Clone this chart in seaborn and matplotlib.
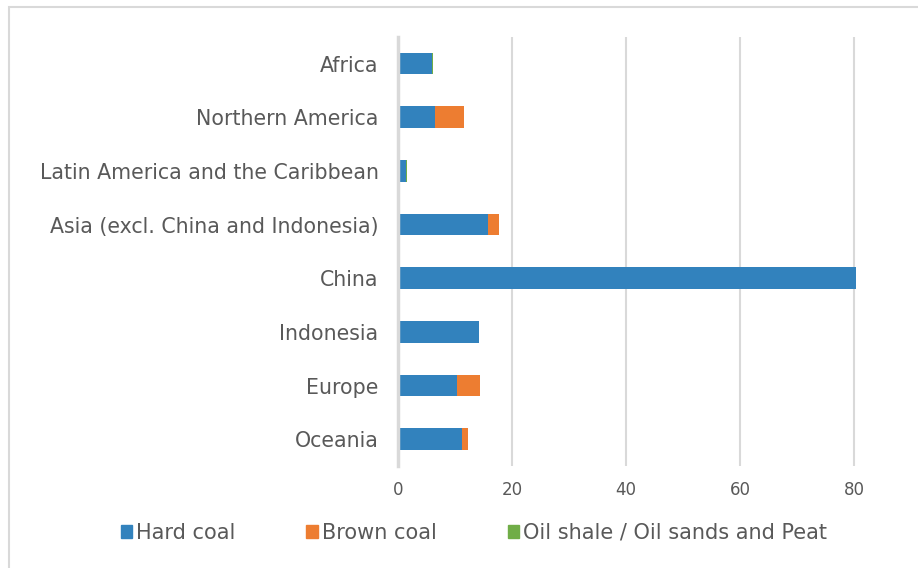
import pandas as pd
import seaborn as sns
import matplotlib.pyplot as plt
from matplotlib.patches import Rectangle

# Dados
regions = ["Africa", "Northern America", "Latin America and the Caribbean",
           "Asia (excl. China and Indonesia)", "China", "Indonesia", "Europe", "Oceania"]
hard_coal = [6.0, 6.5, 1.4, 15.8, 80.3, 14.2, 10.4, 11.3]
brown_coal = [0.0, 5.1, 0.0, 2.0, 0.0, 0.0, 3.9, 0.9]
oil_peat = [0.1, 0.0, 0.1, 0.0, 0.0, 0.0, 0.15, 0.0]

series = ["Hard coal", "Brown coal", "Oil shale / Oil sands and Peat"]
colors = ["#3282BD", "#ED7D31", "#70AD47"]
text_color = "#595959"
grid_color = "#D9D9D9"

df = pd.DataFrame({"region": regions, "hard": hard_coal,
                   "brown": brown_coal, "oil": oil_peat})
# totais acumulados para empilhar (desenha do maior para o menor)
df["c1"] = df["hard"]
df["c2"] = df["hard"] + df["brown"]
df["c3"] = df["c2"] + df["oil"]

sns.set_style("white")
plt.rcParams["font.family"] = ["DejaVu Sans"]

fig = plt.figure(figsize=(9.18, 5.68), dpi=100)
ax = fig.add_axes([398 / 918, 1 - 466 / 568, (911 - 398) / 918, (466 - 36.7) / 568])

for col, color in zip(["c3", "c2", "c1"], colors[::-1]):
    sns.barplot(data=df, x=col, y="region", color=color, width=0.4,
                saturation=1, ax=ax, orient="h", linewidth=0, edgecolor="none")

ax.set_xlim(0, 90)
ax.set_xticks([0, 20, 40, 60, 80])
ax.set_xlabel("")
ax.set_ylabel("")
ax.grid(axis="x", color=grid_color, linewidth=1.5)
ax.grid(axis="y", visible=False)
ax.set_axisbelow(True)
for side in ["top", "right", "bottom"]:
    ax.spines[side].set_visible(False)
ax.spines["left"].set_color(grid_color)
ax.spines["left"].set_linewidth(2.5)
ax.tick_params(axis="both", length=0, colors=text_color)
ax.tick_params(axis="y", labelsize=14.8, pad=14)
ax.tick_params(axis="x", labelsize=12, pad=11)

# legenda
handles = [Rectangle((0, 0), 1, 1, color=c) for c in colors]
fig.legend(handles, series, loc="center", bbox_to_anchor=(474 / 918, 1 - 533 / 568),
           ncol=3, frameon=False, fontsize=15, handlelength=0.55, handleheight=0.55,
           handletextpad=0.2, columnspacing=3.4, labelcolor=text_color)

# moldura do gráfico
fig.add_artist(Rectangle((8.5 / 918, -0.1), 2, 1 - 7.5 / 568 + 0.1,
                         transform=fig.transFigure, fill=False,
                         edgecolor=grid_color, linewidth=1.5))

fig.savefig("out.png", dpi=100, facecolor="white")
